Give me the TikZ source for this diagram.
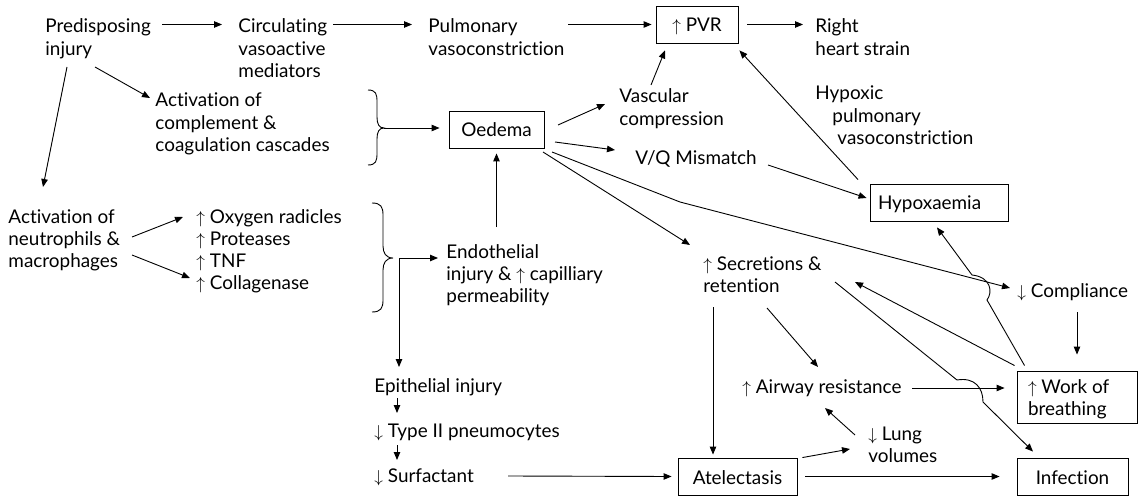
\documentclass[tikz,border=0pt]{standalone}
\usepackage{fontspec}
\setmainfont[Ligatures=NoCommon]{Lato}
\usetikzlibrary{arrows.meta,calc}
\newcommand\ml[1]{\begin{tabular}[t]{@{}l@{}}#1\end{tabular}}
\newcommand\up{$\uparrow$}
\newcommand\dn{$\downarrow$}
\tikzset{
  txt/.style={anchor=base west, inner sep=0pt},
  bx/.style={draw, inner ysep=0pt, text height=15pt, text depth=0pt, minimum height=37pt},
  arr/.style={-{Triangle[length=8pt,width=6.5pt]}},
}
\begin{document}
\begin{tikzpicture}[x=1pt,y=-1pt,font=\fontsize{18.9}{22.3}\selectfont,line width=0.9pt]
\useasboundingbox (0,0) rectangle (1145,497);
% text nodes
\node[txt] (pre)   at (45,33)   {\ml{Predisposing\\injury}};
\node[txt] (circ)  at (238,33)  {\ml{Circulating\\vasoactive\\mediators}};
\node[txt] (pulm)  at (428,33)  {\ml{Pulmonary\\vasoconstriction}};
\node[txt] (right) at (815,33)  {\ml{Right\\heart strain}};
\node[txt] (hpv)   at (815,100) {\ml{Hypoxic\\\hspace*{17pt}pulmonary\\\hspace*{22pt}vasoconstriction}};
\node[txt] (act)   at (155,107) {\ml{Activation of\\complement \&\\coagulation cascades}};
\node[txt] (vasc)  at (619,103) {\ml{Vascular\\compression}};
\node[txt] (vq)    at (635,165) {V/Q Mismatch};
\node[txt] (neu)   at (8,223)   {\ml{Activation of\\neutrophils \&\\macrophages}};
\node[txt] (med)   at (196,223) {\ml{\up\ Oxygen radicles\\\up\ Proteases\\\up\ TNF\\\up\ Collagenase}};
\node[txt] (endo)  at (446,258) {\ml{Endothelial\\injury \& \up\ capilliary\\permeability}};
\node[txt] (sec)   at (703,270) {\ml{\up\ Secretions \&\\retention}};
\node[txt] (comp)  at (1017,297) {\dn\ Compliance};
\node[txt] (air)   at (742,393) {\up\ Airway resistance};
\node[txt] (lung)  at (868,440) {\ml{\dn\ Lung\\volumes}};
\node[txt] (epi)   at (374,392) {Epithelial injury};
\node[txt] (typ)   at (374,437) {\dn\ Type II pneumocytes};
\node[txt] (surf)  at (374,482) {\dn\ Surfactant};
% boxes
\node[bx, minimum width=82pt, inner xsep=0pt] (pvr) at (697,24.5) {\up\ PVR};
\node[bx, minimum width=95pt, inner xsep=0pt] (oed) at (496.5,129.5) {Oedema};
\node[bx, inner xsep=8pt] (hyp) at (939,202.5) {\makebox[122pt][l]{Hypoxaemia}};
\node[draw, inner xsep=11pt, inner ysep=0pt, text height=15pt, text depth=23pt, minimum height=52pt] (wob) at (1077,397) {\makebox[98pt][l]{\ml{\up\ Work of\\breathing}}};
\node[bx, minimum width=119pt, inner xsep=0pt] (atel) at (737.5,476.5) {Atelectasis};
\node[bx, minimum width=111pt, inner xsep=0pt] (inf) at (1072.5,476.5) {Infection};
% braces
\draw[line width=0.9pt] (368,90) .. controls (376,90) and (377,94) .. (377,102) -- (377,117)
  .. controls (377,124) and (379,128) .. (384,128) .. controls (379,128) and (377,132) .. (377,139)
  -- (377,153) .. controls (377,161) and (376,165) .. (368,165);
\coordinate (b1) at (384,128);
\draw[line width=0.9pt] (372,203) .. controls (381,203) and (383,207) .. (383,215) -- (383,246)
  .. controls (383,253) and (386,258) .. (393,258) .. controls (386,258) and (383,263) .. (383,270)
  -- (383,300) .. controls (383,308) and (381,312) .. (372,312);
\coordinate (b2) at (399,258);
% connectors
\draw[arr] ($(pre.base west)+(117,-8.5)$) -- ($(circ.base west)+(-16,-8.5)$);
\draw[arr] ($(circ.base west)+(95,-8.5)$) -- ($(pulm.base west)+(-16,-8.5)$);
\draw[arr] ($(pulm.base west)+(140,-8.5)$) -- ($(pvr.west)+(-4,0)$);
\draw[arr] ($(pvr.east)+(9,0)$) -- ($(right.base west)+(-12,-8.5)$);
\draw[arr] ($(pre.base west)+(50,34)$) -- ($(act.base west)+(-5,-9)$);
\draw[arr] ($(pre.base west)+(22,34)$) -- ($(neu.base west)+(35,-36)$);
\draw[arr] ($(neu.base west)+(124,14)$) -- ($(med.base west)+(-13,-6)$);
\draw[arr] ($(neu.base west)+(124,32)$) -- ($(med.base west)+(-6,55)$);
\draw[arr] (b1) -- ($(oed.west)+(-9,-1.5)$);
\draw[arr] ($(endo.base west)+(50.5,-31)$) -- ($(oed.south)+(0,5)$);
\draw[arr] ($(oed.center)+(61.5,-4.5)$) -- ($(vasc.base west)+(-14,1)$);
\draw[arr] ($(vasc.base west)+(32,-18)$) -- ($(pvr.south)+(-32,7)$);
\draw[arr] ($(oed.center)+(58.5,12.5)$) -- ($(vq.base west)+(-20,-15)$);
\draw[arr] ($(oed.center)+(55.5,22.5)$) -- ($(oed.center)+(183.5,72.5)$) -- ($(comp.base west)+(-7,-9)$);
\draw[arr] ($(oed.center)+(46.5,22.5)$) -- ($(sec.base west)+(-13,-25)$);
\draw[arr] ($(vq.base west)+(133,0)$) -- ($(hyp.west)+(-3,-4.5)$);
\draw[arr] ($(hyp.north)+(-81,-4)$) -- ($(pvr.south east)+(1,7)$);
\draw[arr] (b2) -- ($(endo.base west)+(-8,0)$);
\draw[arr] (b2) -- ($(epi.base west)+(25,-25)$);
\draw[arr] ($(epi.base west)+(23,6)$) -- ($(typ.base west)+(23,-24)$);
\draw[arr] ($(typ.base west)+(23,8)$) -- ($(surf.base west)+(23,-22)$);
\draw[arr] ($(surf.base west)+(134,-6)$) -- ($(atel.west)+(-6,0)$);
\draw[arr] ($(sec.base west)+(10,37)$) -- ($(atel.north)+(-24.5,-3)$);
\draw[arr] ($(sec.base west)+(64,38)$) -- ($(air.base west)+(76,-26)$);
\draw[arr] ($(atel.east)+(8,0)$) -- ($(inf.west)+(-17,0)$);
\draw[arr] ($(atel.north east)+(5,0)$) -- ($(lung.base west)+(-18,9)$);
\draw[arr] ($(lung.base west)+(-13,-5)$) -- ($(air.base west)+(83,15)$);
\draw[arr] ($(air.base west)+(170,-5)$) -- ($(wob.west)+(-12,-9)$);
\draw[arr] ($(comp.base west)+(60,15)$) -- ($(wob.north)+(0,-16)$);
\draw[arr] ($(wob.north west)+(-2,-5)$) -- ($(sec.base west)+(152,12)$);
\coordinate (h1a) at (987,300);
\coordinate (h1b) at (972,275);
\draw[arr] ($(wob.north west)+(8,-5)$) -- (h1a) .. controls (993,292) and (991,277) .. (h1b) -- ($(hyp.south)+(-2,6)$);
\coordinate (h2a) at (957,380);
\coordinate (h2b) at (983,402);
\draw[arr] ($(sec.base west)+(132,12)$) -- (h2a) .. controls (975,377) and (983,388) .. (h2b) -- ($(inf.north)+(-39.5,-6)$);
\end{tikzpicture}
\end{document}
